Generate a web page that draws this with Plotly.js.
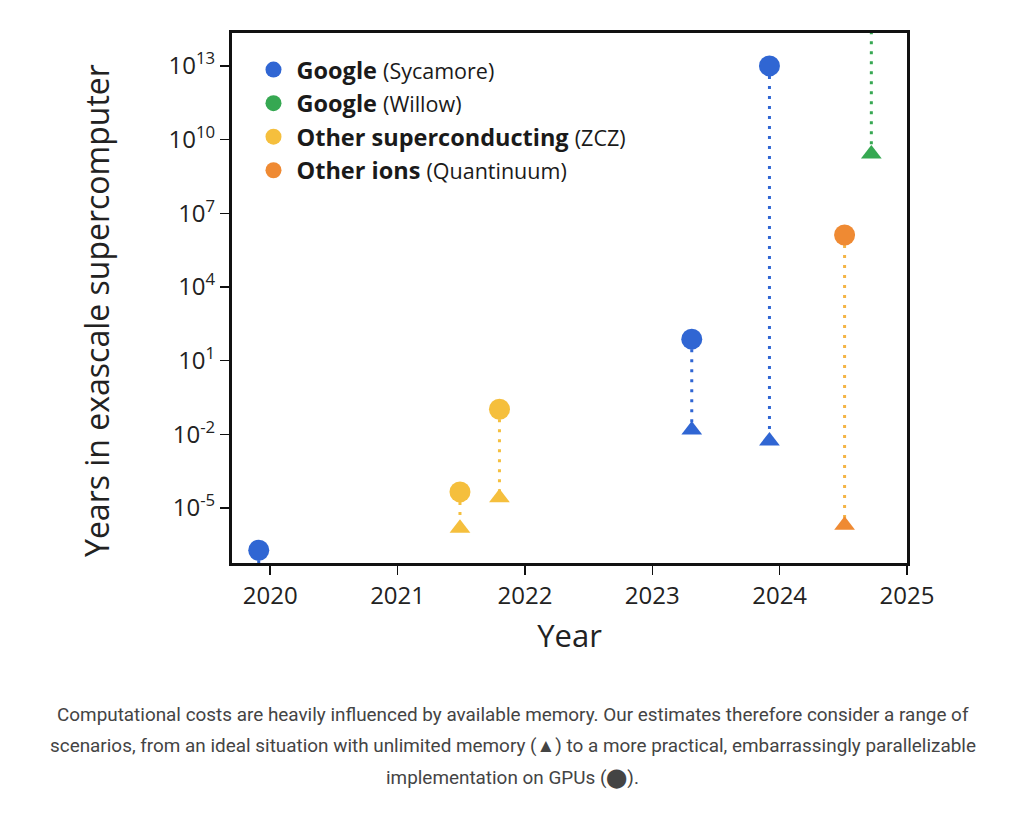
<!DOCTYPE html>
<html>
<head>
<meta charset="utf-8">
<script src="https://cdn.plot.ly/plotly-3.0.1.min.js"></script>
<style>
html,body{margin:0;padding:0;background:#fff;}
#chart{width:1024px;height:817px;}
</style>
</head>
<body>
<div id="chart"></div>
<script>
// ---- data ----
const seriesNames = ["Google", "Google", "Other superconducting", "Other ions"];
const seriesSub = ["(Sycamore)", "(Willow)", "(ZCZ)", "(Quantinuum)"];
const seriesColors = ["#3066d3", "#36a852", "#f5bf3d", "#ef8a33"];
const lineColors = ["#3066d3", "#36a852", "#f5bf3d", "#f4b446"];

// year of each result, GPU (circle) estimate and ideal-memory (triangle) estimate
const sycamoreYears = [2019.91, 2023.31, 2023.92];
const sycamoreGPU = [1.9e-7, 75, 1.0e13];
const sycamoreIdeal = [1e-9, 0.015, 0.0054];

const willowYears = [2024.72];
const willowGPU = [1e25];
const willowIdeal = [2.6e9];

const zczYears = [2021.49, 2021.80];
const zczGPU = [4.5e-5, 0.105];
const zczIdeal = [1.5e-6, 2.6e-5];

const quantYears = [2024.51];
const quantGPU = [1.3e6];
const quantIdeal = [2.0e-6];

const xTickVals = [2020, 2021, 2022, 2023, 2024, 2025];
const yTickVals = [1e-5, 1e-2, 1e1, 1e4, 1e7, 1e10, 1e13];
const yTickText = ["10<sup>-5</sup>", "10<sup>-2</sup>", "10<sup>1</sup>", "10<sup>4</sup>",
                   "10<sup>7</sup>", "10<sup>10</sup>", "10<sup>13</sup>"];

const yTitle = "Years in exascale supercomputer";
const caption = [
  "Computational costs are heavily influenced by available memory. Our estimates therefore consider a range of",
  "scenarios, from an ideal situation with unlimited memory (\u25B2) to a more practical, embarrassingly parallelizable",
  "implementation on GPUs (\u2B24)."
];

// ---- traces ----
const groups = [
  [sycamoreYears, sycamoreGPU, sycamoreIdeal],
  [willowYears, willowGPU, willowIdeal],
  [zczYears, zczGPU, zczIdeal],
  [quantYears, quantGPU, quantIdeal]
];

const traces = [];
groups.forEach(function (g, i) {
  const xs = [], ys = [];
  g[0].forEach(function (yr, k) {
    xs.push(yr, yr, null);
    ys.push(g[1][k], g[2][k], null);
  });
  traces.push({
    x: xs, y: ys, type: "scatter", mode: "lines", showlegend: false, hoverinfo: "skip",
    line: {color: lineColors[i], width: 3, dash: "3px,7px"}
  });
});
groups.forEach(function (g, i) {
  traces.push({
    x: g[0], y: g[2], type: "scatter", mode: "markers", showlegend: false,
    marker: {symbol: "triangle-up", size: 18, color: seriesColors[i]}
  });
  traces.push({
    x: g[0], y: g[1], type: "scatter", mode: "markers", showlegend: false,
    marker: {symbol: "circle", size: 21, color: seriesColors[i]}
  });
});
// legend entries
seriesNames.forEach(function (n, i) {
  traces.push({
    x: [null], y: [null], type: "scatter", mode: "markers",
    name: "<b>" + n + "</b> <span style=\"font-size:21.5px\">" + seriesSub[i] + "</span>",
    marker: {symbol: "circle", size: 20, color: seriesColors[i]}
  });
});

const annotations = caption.map(function (t, i) {
  return {
    text: t, xref: "paper", yref: "paper", x: 0.416, y: 0, yanchor: "middle",
    xanchor: "center", showarrow: false, yshift: -151 - i * 31.5,
    font: {family: "Roboto, sans-serif", size: 18.9, color: "#444"}
  };
});
annotations.push({
  text: yTitle, xref: "paper", yref: "paper", x: -0.2, y: 0.4755,
  xanchor: "center", yanchor: "middle", textangle: -90, showarrow: false,
  font: {family: "'Open Sans', sans-serif", size: 32, color: "#222"}
});

const layout = {
  width: 1024, height: 817,
  margin: {l: 232, r: 117, t: 33, b: 254},
  paper_bgcolor: "#ffffff", plot_bgcolor: "#ffffff",
  font: {family: "'Open Sans', sans-serif", color: "#222"},
  showlegend: true,
  legend: {
    x: 0.0274, y: 0.972, xanchor: "left", yanchor: "top",
    bgcolor: "rgba(0,0,0,0)", borderwidth: 0, itemwidth: 36,
    font: {family: "'Open Sans', sans-serif", size: 23.5, color: "#1a1a1a"},
    traceorder: "normal", itemclick: false
  },
  xaxis: {
    range: [2019.70, 2025.0], tickmode: "array", tickvals: xTickVals,
    showgrid: false, zeroline: false,
    showline: true, linewidth: 3, linecolor: "#111", mirror: true,
    ticks: "outside", ticklen: 9, tickwidth: 1.5, tickcolor: "#111",
    tickfont: {family: "'Open Sans', sans-serif", size: 24, color: "#222"},
    title: {text: "Year", font: {family: "'Open Sans', sans-serif", size: 31, color: "#222"}, standoff: 16}
  },
  yaxis: {
    type: "log", range: [-7.24, 14.34], tickmode: "array",
    tickvals: yTickVals, ticktext: yTickText,
    showgrid: false, zeroline: false,
    showline: true, linewidth: 3, linecolor: "#111", mirror: true,
    ticks: "outside", ticklen: 9, tickwidth: 1.5, tickcolor: "#111",
    tickfont: {family: "'Open Sans', sans-serif", size: 24, color: "#222"}
  },
  annotations: annotations
};

Plotly.newPlot("chart", traces, layout, {displayModeBar: false, staticPlot: true});
</script>
</body>
</html>
